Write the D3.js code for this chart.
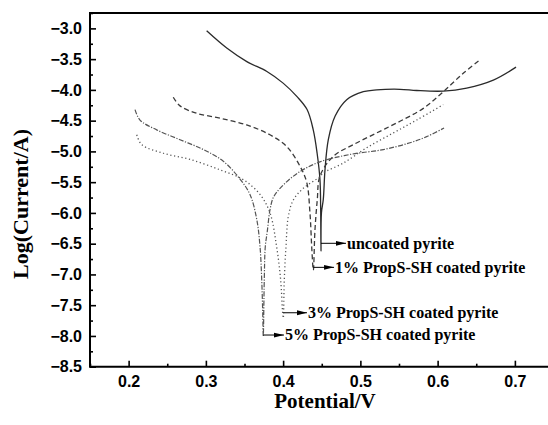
<!DOCTYPE html>
<html>
<head>
<meta charset="utf-8">
<script src="https://cdn.jsdelivr.net/npm/d3@7/dist/d3.min.js"></script>
<style>
  html, body { margin: 0; padding: 0; background: #fff; }
  svg { display: block; }
</style>
</head>
<body>
<svg id="chart" width="548" height="425"></svg>
<script>
// ---------------- DATA ----------------
const seriesNames = ["uncoated pyrite", "1% PropS-SH coated pyrite", "3% PropS-SH coated pyrite", "5% PropS-SH coated pyrite"];

const uncoatedX = [0.301,0.327,0.353,0.379,0.400,0.418,0.431,0.439,0.444,0.4477,0.4486,0.4490,0.4496,0.452,0.4542,0.4585,0.4672,0.4823,0.5038,0.5211,0.5513,0.5729,0.6073,0.6376,0.6721,0.7015];
const uncoatedY = [-3.04,-3.32,-3.54,-3.70,-3.89,-4.11,-4.32,-4.65,-5.03,-5.46,-5.95,-6.62,-6.00,-5.78,-5.30,-4.81,-4.43,-4.16,-4.03,-4.00,-3.99,-4.01,-4.02,-3.97,-3.84,-3.63];

const p1X = [0.2578,0.2665,0.2881,0.3183,0.3528,0.3830,0.4046,0.4218,0.4305,0.4348,0.4370,0.4391,0.4412,0.4442,0.4477,0.4650,0.4908,0.5211,0.5513,0.5815,0.6073,0.6332,0.6540];
const p1Y = [-4.12,-4.26,-4.38,-4.46,-4.57,-4.73,-4.92,-5.24,-5.50,-6.01,-6.55,-6.93,-6.28,-5.79,-5.40,-5.08,-4.89,-4.70,-4.51,-4.30,-4.03,-3.73,-3.52];

const p3X = [0.2105,0.2169,0.2449,0.2794,0.3183,0.3484,0.3701,0.3830,0.3916,0.3968,0.3994,0.4002,0.4015,0.4037,0.4067,0.4132,0.4261,0.4477,0.4520,0.4779,0.5082,0.5426,0.5729,0.6073];
const p3Y = [-4.73,-4.89,-5.03,-5.13,-5.30,-5.46,-5.70,-6.00,-6.55,-7.09,-7.63,-7.71,-7.09,-6.55,-6.06,-5.79,-5.60,-5.41,-5.35,-5.19,-4.94,-4.70,-4.49,-4.24];

const p5X = [0.2083,0.2147,0.2363,0.2665,0.2967,0.3226,0.3442,0.3571,0.3658,0.3701,0.3723,0.3736,0.3743,0.3756,0.3769,0.3795,0.3830,0.3873,0.3960,0.4190,0.4477,0.4865,0.5297,0.5642,0.5858,0.6083];
const p5Y = [-4.32,-4.49,-4.65,-4.81,-4.97,-5.16,-5.45,-5.70,-6.10,-6.55,-7.09,-7.63,-8.01,-7.09,-6.55,-6.30,-5.95,-5.75,-5.60,-5.35,-5.17,-5.05,-4.97,-4.86,-4.76,-4.62];

// annotation arrows: start x (curve minimum), arrow y, text x (data units)
const labelStartX = [0.4490, 0.4391, 0.4002, 0.3743];
const labelY      = [-6.494, -6.885, -7.623, -7.985];
const labelTextX  = [0.4827, 0.4672, 0.4322, 0.4024];

const xTicks = [0.2, 0.3, 0.4, 0.5, 0.6, 0.7];
const xMinorTicks = [0.15, 0.25, 0.35, 0.45, 0.55, 0.65, 0.75];
const yTicks = [-3.0,-3.5,-4.0,-4.5,-5.0,-5.5,-6.0,-6.5,-7.0,-7.5,-8.0,-8.5];
const yMinorTicks = [-2.75,-3.25,-3.75,-4.25,-4.75,-5.25,-5.75,-6.25,-6.75,-7.25,-7.75,-8.25];

const xTitle = "Potential/V";
const yTitle = "Log(Current/A)";

// ---------------- CHART ----------------
const svg = d3.select("#chart");
const mLeft = 90, mRight = 553.5, mTop = 13, mBottom = 366.7;

const x = d3.scaleLinear().domain([0.15, 0.75]).range([mLeft, mRight]);
const y = d3.scaleLinear().domain([-8.5, -2.75]).range([mBottom, mTop]);

const series = [
  { xs: uncoatedX, ys: uncoatedY, color: "#2a2a2a", width: 1.3, dash: null },
  { xs: p1X, ys: p1Y, color: "#3a3a3a", width: 1.3, dash: "5,3" },
  { xs: p3X, ys: p3Y, color: "#555", width: 1.3, dash: "1.2,2.6" },
  { xs: p5X, ys: p5Y, color: "#555", width: 1.2, dash: "5,1.5,1.2,1.5" }
];

const line = d3.line()
  .x(d => x(d[0]))
  .y(d => y(d[1]))
  .curve(d3.curveCatmullRom.alpha(0.5));

const plot = svg.append("g");
series.forEach(s => {
  const pts = s.xs.map((v, i) => [v, s.ys[i]]);
  plot.append("path")
    .attr("d", line(pts))
    .attr("fill", "none")
    .attr("stroke", s.color)
    .attr("stroke-width", s.width)
    .attr("stroke-dasharray", s.dash)
    .attr("stroke-linejoin", "round");
});

// annotations
svg.append("defs").append("marker")
  .attr("id", "arr")
  .attr("viewBox", "0 0 10 6")
  .attr("refX", 10).attr("refY", 3)
  .attr("markerWidth", 10).attr("markerHeight", 6)
  .attr("markerUnits", "userSpaceOnUse")
  .attr("orient", "auto")
  .append("path").attr("d", "M0,0.6 L10,3 L0,5.4 Z").attr("fill", "#000");

const ann = svg.append("g");
seriesNames.forEach((name, i) => {
  const yy = y(labelY[i]);
  ann.append("line")
    .attr("x1", x(labelStartX[i])).attr("x2", x(labelTextX[i]) - 1)
    .attr("y1", yy).attr("y2", yy)
    .attr("stroke", "#000").attr("stroke-width", 1)
    .attr("marker-end", "url(#arr)");
  ann.append("text")
    .attr("x", x(labelTextX[i]))
    .attr("y", yy)
    .attr("dy", "0.33em")
    .attr("font-family", "'Liberation Serif', 'Times New Roman', serif")
    .attr("font-weight", "bold")
    .attr("font-size", 16)
    .attr("fill", "#000")
    .text(name);
});

// axes
const tickFont = "'Liberation Sans', Arial, sans-serif";
const gx = svg.append("g").attr("transform", `translate(0,${mBottom})`);
gx.call(d3.axisBottom(x).tickValues(xTicks).tickSize(-6).tickPadding(9).tickFormat(d3.format(".1f")));
gx.append("g").call(d3.axisBottom(x).tickValues(xMinorTicks).tickSize(-3).tickFormat(""));
gx.selectAll(".domain").remove();

const gy = svg.append("g").attr("transform", `translate(${mLeft},0)`);
gy.call(d3.axisLeft(y).tickValues(yTicks).tickSize(-6).tickPadding(8).tickFormat(d3.format(".1f")));
gy.append("g").call(d3.axisLeft(y).tickValues(yMinorTicks).tickSize(-3).tickFormat(""));
gy.selectAll(".domain").remove();

svg.selectAll(".tick line").attr("stroke", "#000").attr("stroke-width", 1.6);
svg.selectAll(".tick text")
  .attr("font-family", tickFont)
  .attr("font-weight", "bold")
  .attr("font-size", 16)
  .attr("fill", "#000");

// frame lines
svg.append("line").attr("x1", mLeft).attr("x2", 548).attr("y1", mBottom).attr("y2", mBottom)
  .attr("stroke", "#000").attr("stroke-width", 2);
svg.append("line").attr("x1", mLeft).attr("x2", 548).attr("y1", mTop).attr("y2", mTop)
  .attr("stroke", "#000").attr("stroke-width", 2);
svg.append("line").attr("x1", mLeft).attr("x2", mLeft).attr("y1", mTop - 1).attr("y2", mBottom + 1)
  .attr("stroke", "#000").attr("stroke-width", 2);

// titles
svg.append("text")
  .attr("x", 325).attr("y", 408)
  .attr("text-anchor", "middle")
  .attr("font-family", "'Liberation Serif', 'Times New Roman', serif")
  .attr("font-weight", "bold").attr("font-size", 21)
  .text(xTitle);

svg.append("text")
  .attr("transform", `translate(28,204) rotate(-90)`)
  .attr("text-anchor", "middle")
  .attr("font-family", "'Liberation Serif', 'Times New Roman', serif")
  .attr("font-weight", "bold").attr("font-size", 22)
  .text(yTitle);
</script>
</body>
</html>
